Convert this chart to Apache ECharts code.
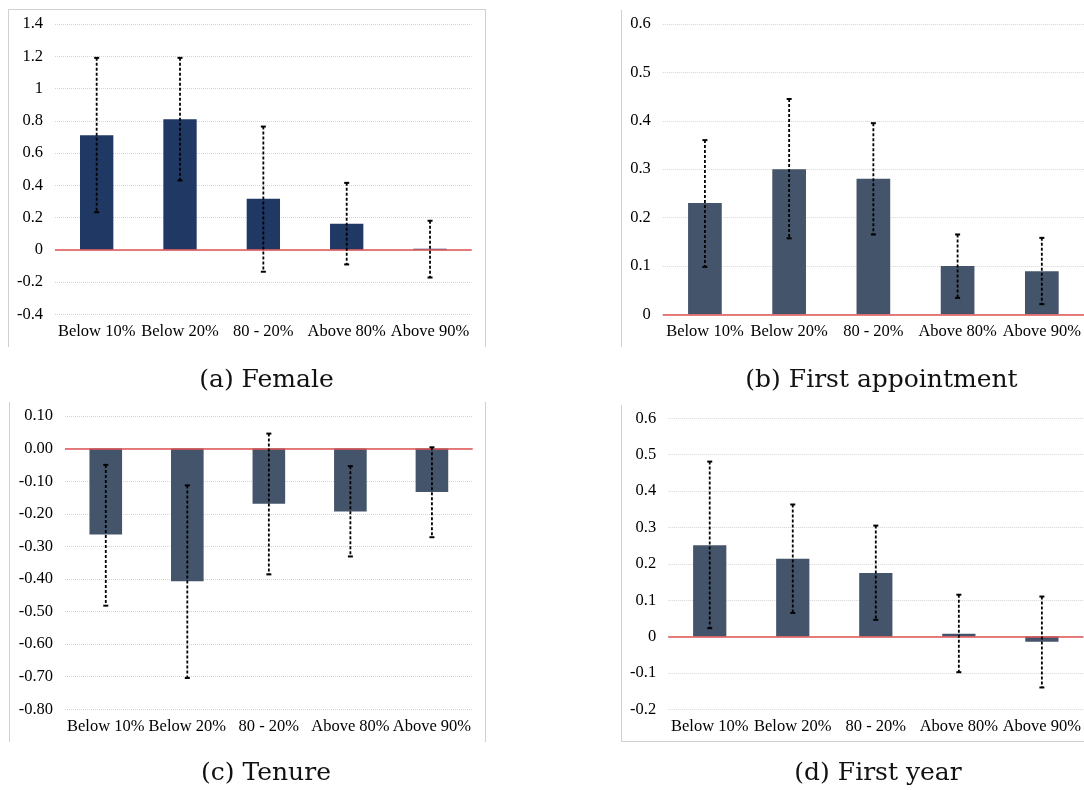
<!DOCTYPE html>
<html>
<head>
<meta charset="utf-8">
<title>Coefficient estimates by group</title>
<script src="https://cdn.jsdelivr.net/npm/echarts@6/dist/echarts.min.js"></script>
<style>
  html, body { margin: 0; padding: 0; background: #fff; }
  #chart { width: 1084px; height: 790px; }
</style>
</head>
<body>
<div id="chart"></div>
<script>
// Category labels shared by all four panels
const categories = ['Below 10%', 'Below 20%', '80 - 20%', 'Above 80%', 'Above 90%'];

// (a) Female: point estimates and confidence bounds
const femaleCoef = [0.71, 0.81, 0.316, 0.162, 0.006];
const femaleLow  = [0.233, 0.43, -0.136, -0.091, -0.172];
const femaleHigh = [1.19, 1.19, 0.764, 0.415, 0.18];

// (b) First appointment
const firstApptCoef = [0.23, 0.30, 0.28, 0.10, 0.089];
const firstApptLow  = [0.098, 0.157, 0.165, 0.034, 0.021];
const firstApptHigh = [0.36, 0.445, 0.395, 0.165, 0.158];

// (c) Tenure
const tenureCoef = [-0.264, -0.407, -0.169, -0.193, -0.133];
const tenureLow  = [-0.482, -0.704, -0.386, -0.331, -0.272];
const tenureHigh = [-0.05, -0.113, 0.046, -0.054, 0.004];

// (d) First year
const firstYearCoef = [0.251, 0.214, 0.175, 0.008, -0.014];
const firstYearLow  = [0.023, 0.065, 0.046, -0.098, -0.14];
const firstYearHigh = [0.481, 0.363, 0.305, 0.115, 0.11];

// Y axis ranges per panel
const yRanges = [
  { min: -0.4, max: 1.4, interval: 0.2, digits: null },
  { min: 0, max: 0.6, interval: 0.1, digits: null },
  { min: -0.8, max: 0.1, interval: 0.1, digits: 2 },
  { min: -0.2, max: 0.6, interval: 0.1, digits: null }
];

const captions = ['(a) Female', '(b) First appointment', '(c) Tenure', '(d) First year'];

const panels = [
  { coef: femaleCoef, low: femaleLow, high: femaleHigh, color: '#203864' },
  { coef: firstApptCoef, low: firstApptLow, high: firstApptHigh, color: '#44546A' },
  { coef: tenureCoef, low: tenureLow, high: tenureHigh, color: '#44546A' },
  { coef: firstYearCoef, low: firstYearLow, high: firstYearHigh, color: '#44546A' }
];

// Plot areas of the 2x2 layout
const grids = [
  { left: 55, top: 24, width: 416.7, height: 290.3 },
  { left: 662.8, top: 24, width: 421.2, height: 290.3 },
  { left: 65, top: 416, width: 407.7, height: 293.3 },
  { left: 668.2, top: 418.3, width: 415.8, height: 291 }
];

const axisFont = { fontFamily: 'Liberation Serif', fontSize: 16.5, color: '#000' };
const frameColor = '#d0d0d0';

function errorBarRender(params, api) {
  const i = api.value(0);
  const lo = api.coord([i, api.value(1)]);
  const hi = api.coord([i, api.value(2)]);
  const cap = 2.5;
  return {
    type: 'group',
    children: [
      { type: 'line', shape: { x1: hi[0], y1: hi[1], x2: lo[0], y2: lo[1] },
        style: { stroke: '#000', lineWidth: 1.8, lineDash: [3, 2] } },
      { type: 'line', shape: { x1: hi[0] - cap, y1: hi[1], x2: hi[0] + cap, y2: hi[1] },
        style: { stroke: '#000', lineWidth: 2 } },
      { type: 'line', shape: { x1: lo[0] - cap, y1: lo[1], x2: lo[0] + cap, y2: lo[1] },
        style: { stroke: '#000', lineWidth: 2 } }
    ]
  };
}

const xAxes = [], yAxes = [], series = [];
panels.forEach((p, k) => {
  xAxes.push({
    type: 'category', gridIndex: k, data: categories, position: 'bottom',
    axisLine: { show: false, onZero: false }, axisTick: { show: false },
    splitLine: { show: false },
    axisLabel: Object.assign({ interval: 0, margin: 9 }, axisFont)
  });
  const r = yRanges[k];
  yAxes.push({
    type: 'value', gridIndex: k, min: r.min, max: r.max, interval: r.interval,
    axisLine: { show: false }, axisTick: { show: false },
    splitLine: { show: true, lineStyle: { type: 'dotted', color: '#d4d4d4', width: 1 } },
    axisLabel: Object.assign({
      margin: 12,
      formatter: v => r.digits != null ? v.toFixed(r.digits) : String(+v.toFixed(4))
    }, axisFont)
  });
  series.push({
    type: 'bar', xAxisIndex: k, yAxisIndex: k, data: p.coef, barWidth: '40%',
    itemStyle: { color: p.color }, silent: true,
    markLine: {
      silent: true, symbol: 'none', z: 5,
      label: { show: false },
      lineStyle: { color: '#e05252', type: 'solid', width: 1.5 },
      data: [{ yAxis: 0 }]
    }
  });
  series.push({
    type: 'custom', xAxisIndex: k, yAxisIndex: k, z: 10, silent: true,
    renderItem: errorBarRender,
    encode: { x: 0, y: [1, 2] },
    data: categories.map((c, j) => [j, p.low[j], p.high[j]])
  });
});

// Panel frames and captions
const frameLine = (x1, y1, x2, y2) => ({
  type: 'line', silent: true,
  shape: { x1, y1, x2, y2 }, style: { stroke: frameColor, lineWidth: 1 }
});
const captionText = (text, x, y) => ({
  type: 'text', x, y, silent: true,
  style: { text, font: '25px "DejaVu Serif"', fill: '#111', align: 'center', verticalAlign: 'middle' }
});

const graphic = [
  frameLine(8.5, 9.5, 485.5, 9.5),
  frameLine(8.5, 9.5, 8.5, 347),
  frameLine(485.5, 9.5, 485.5, 347),
  frameLine(621.5, 10, 621.5, 347),
  frameLine(9.5, 402, 9.5, 742),
  frameLine(485.5, 402, 485.5, 742),
  frameLine(621.5, 405, 621.5, 742),
  frameLine(621.5, 741.5, 1084, 741.5),
  captionText(captions[0], 266.5, 380),
  captionText(captions[1], 881.5, 380),
  captionText(captions[2], 266, 773),
  captionText(captions[3], 878, 773)
];

const chart = echarts.init(document.getElementById('chart'), null, { renderer: 'canvas' });
chart.setOption({
  animation: false,
  backgroundColor: '#fff',
  grid: grids.map(g => Object.assign({ containLabel: false }, g)),
  xAxis: xAxes,
  yAxis: yAxes,
  series,
  graphic
});
</script>
</body>
</html>
